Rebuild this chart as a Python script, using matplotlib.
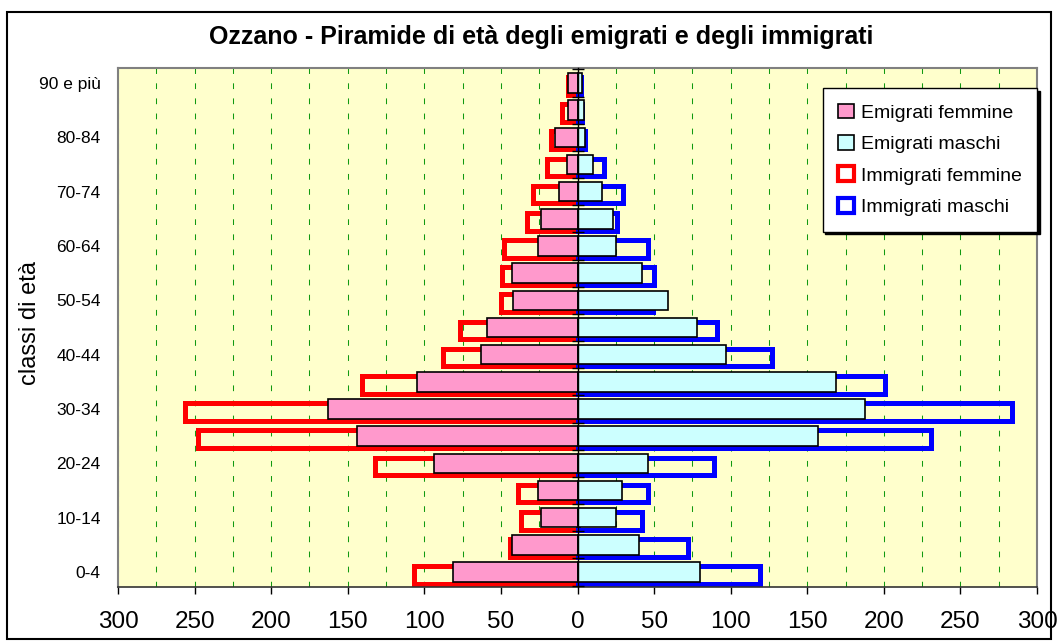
import numpy as np
import matplotlib
matplotlib.use('Agg')
import matplotlib.pyplot as plt
from matplotlib.patches import Patch, Rectangle

plt.rcParams['font.family'] = ['Liberation Sans', 'DejaVu Sans']

# classi di età, dal basso verso l'alto
classi = ['0-4', '5-9', '10-14', '15-19', '20-24', '25-29', '30-34', '35-39',
          '40-44', '45-49', '50-54', '55-59', '60-64', '65-69', '70-74',
          '75-79', '80-84', '85-89', '90 e più']

emigrati_f = [81, 43, 24, 26, 94, 144, 163, 105, 63, 59, 42, 43, 26, 24, 12, 7, 15, 6, 6]
emigrati_m = [80, 40, 25, 29, 46, 157, 188, 169, 97, 78, 59, 42, 25, 23, 16, 10, 5, 4, 3]
immigrati_f = [107, 44, 37, 39, 132, 248, 256, 141, 88, 77, 50, 49, 48, 33, 29, 20, 17, 10, 6]
immigrati_m = [119, 72, 42, 46, 89, 231, 284, 201, 127, 91, 49, 50, 46, 26, 30, 17, 5, 3, 2]

xticks = np.arange(-300, 301, 50)

W, H = 1059, 641
fig = plt.figure(figsize=(W / 100, H / 100), dpi=100)
fig.patch.set_facecolor('white')
ax = fig.add_axes([118 / W, 1 - 587 / H, (1037 - 118) / W, (587 - 68) / H])
ax.set_facecolor('#FFFFCC')

y = np.arange(len(classi))
off = 0.11

ax.barh(y - off, -np.array(immigrati_f), height=0.65, facecolor='none',
        edgecolor='#FF0000', linewidth=3.6, zorder=2)
ax.barh(y - off, immigrati_m, height=0.65, facecolor='none',
        edgecolor='#0000FF', linewidth=3.6, zorder=2)
ax.barh(y, -np.array(emigrati_f), height=0.72, color='#FF99CC',
        edgecolor='black', linewidth=1.2, zorder=3)
ax.barh(y, emigrati_m, height=0.72, color='#CCFFFF',
        edgecolor='black', linewidth=1.2, zorder=3)

ax.set_xlim(-300, 300)
ax.set_ylim(-0.55, len(classi) - 0.45)

ax.set_xticks(xticks)
ax.set_xticklabels([str(abs(v)) for v in xticks], fontsize=17.5)
ax.set_xticks(np.arange(-275, 300, 50), minor=True)
ax.tick_params(axis='x', which='major', direction='out', length=5, width=1, pad=12.5)
ax.tick_params(axis='x', which='minor', length=0)
ax.grid(axis='x', which='both', color='#119911', linestyle=(0, (5.5, 9)), linewidth=0.75)
ax.set_axisbelow(True)

ax.set_yticks(y[::2])
ax.set_yticklabels(classi[::2], fontsize=12.5)
ax.tick_params(axis='y', length=0, pad=12.5)

for s in ['left', 'top', 'right']:
    ax.spines[s].set_color('#808080')
    ax.spines[s].set_linewidth(1.5)
ax.spines['bottom'].set_color('#333333')
ax.spines['bottom'].set_linewidth(1.2)

# asse verticale centrale con le tacche tra le classi
ax2 = ax.twinx()
ax2.set_ylim(ax.get_ylim())
for s in ['left', 'top', 'bottom']:
    ax2.spines[s].set_visible(False)
ax2.spines['right'].set_position(('data', 0))
ax2.spines['right'].set_color('black')
ax2.spines['right'].set_linewidth(1.0)
ax2.set_yticks(np.arange(-0.5, len(classi), 1))
ax2.tick_params(axis='y', direction='inout', length=8, width=1, labelright=False)

handles = [Patch(facecolor='#FF99CC', edgecolor='black', linewidth=1.2, label='Emigrati femmine'),
           Patch(facecolor='#CCFFFF', edgecolor='black', linewidth=1.2, label='Emigrati maschi'),
           Patch(facecolor='white', edgecolor='#FF0000', linewidth=3, label='Immigrati femmine'),
           Patch(facecolor='white', edgecolor='#0000FF', linewidth=3, label='Immigrati maschi')]
leg = ax2.legend(handles=handles, loc='upper right', bbox_to_anchor=(1.0, (587 - 88) / 519),
                 borderaxespad=0, fontsize=14, fancybox=False, framealpha=1,
                 edgecolor='black', handlelength=0.8, handleheight=0.8,
                 handletextpad=0.35, labelspacing=0.68, borderpad=0.8,
                 shadow={'color': 'black', 'alpha': 1})
leg.get_frame().set_linewidth(1.0)

fig.text(541 / W, 1 - 37 / H, 'Ozzano - Piramide di età degli emigrati e degli immigrati',
         ha='center', va='center', fontsize=18, fontweight='bold')
fig.text(30 / W, 1 - 323 / H, 'classi di età', rotation=90,
         ha='center', va='center', fontsize=17)

fig.patches.append(Rectangle((7 / W, 1 - 639 / H), (1051 - 7) / W, (639 - 12) / H,
                             transform=fig.transFigure, fill=False,
                             edgecolor='black', linewidth=1.5))

fig.savefig('out.png', dpi=100)
